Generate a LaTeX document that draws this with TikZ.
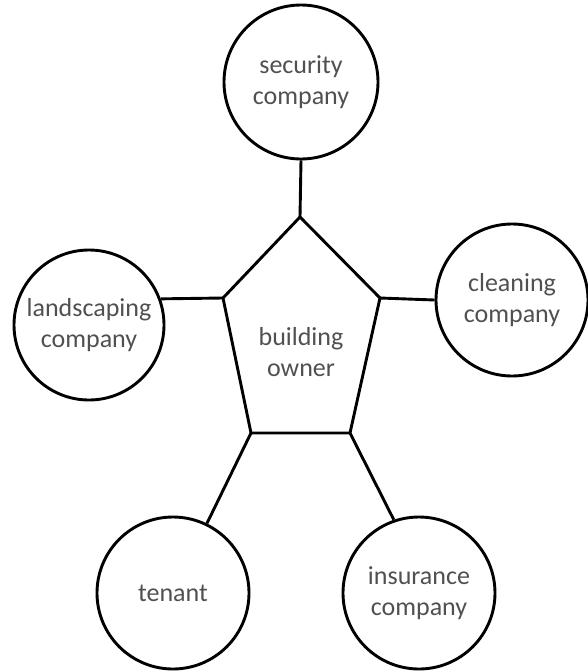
\documentclass[tikz,border=0pt]{standalone}
\usepackage{fontspec}
\setmainfont{Carlito}
\definecolor{txt}{RGB}{80,80,80}
\begin{document}
\begin{tikzpicture}[x=1pt,y=-1pt,
  ln/.style={line width=2.9pt,black},
  party/.style={circle,draw,line width=2.9pt,minimum size=152pt,inner sep=0pt,
    text=txt,align=center,font=\fontsize{26}{31}\selectfont},
  lbl/.style={text=txt,align=center,font=\fontsize{26}{31}\selectfont}]
\useasboundingbox (0,0) rectangle (587,672);
% pentagon
\coordinate (pT) at (300,217);
\coordinate (pR) at (380,298);
\coordinate (pBR) at (350,433);
\coordinate (pBL) at (251,433);
\coordinate (pL) at (223,298);
\draw[ln,line join=miter] (pT) -- (pR) -- (pBR) -- (pBL) -- (pL) -- cycle;
\node[lbl] (own) at (301,352) {building\\owner};
% circles
\node[party,minimum size=154pt] (sec) at (301,82) {security\\company};
\node[party] (cle) at (512,300) {cleaning\\company};
\node[party,minimum size=150pt] (lan) at (89,325) {landscaping\\company};
\node[party,minimum size=152pt] (ten) at (173,593) {tenant};
\node[party,minimum size=152pt] (ins) at (419,593) {insurance\\company};
% connectors
\draw[ln] (pT) -- (sec.south);
\draw[ln] (pR) -- (cle.west);
\draw[ln] (pL) -- (lan.20);
\draw[ln] (pBL) -- (ten);
\draw[ln] (pBR) -- (ins.109);
\end{tikzpicture}
\end{document}
